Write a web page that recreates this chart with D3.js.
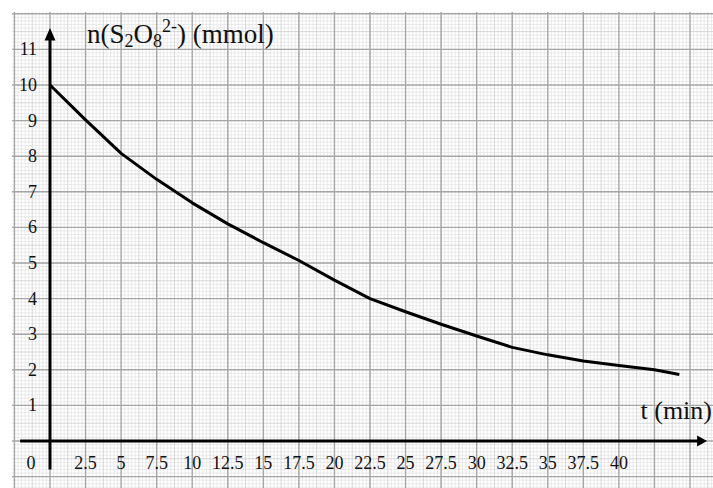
<!DOCTYPE html>
<html>
<head>
<meta charset="utf-8">
<script src="https://cdn.jsdelivr.net/npm/d3@7/dist/d3.min.js"></script>
<style>
  html, body { margin: 0; padding: 0; background: #fff; }
  svg { display: block; }
  text { font-family: "Liberation Serif", "Times New Roman", serif; fill: #111; }
</style>
</head>
<body>
<svg id="chart" width="713" height="488"></svg>
<script>
// ---- data ----
const times   = [0, 2.5, 5, 7.5, 10, 12.5, 15, 17.5, 20, 22.5, 25, 27.5, 30, 32.5, 35, 37.5, 40, 42.5, 44.25];
const amounts = [10, 9.02, 8.08, 7.35, 6.69, 6.1, 5.57, 5.07, 4.52, 4.0, 3.63, 3.28, 2.95, 2.63, 2.42, 2.25, 2.12, 2.0, 1.87];
const xTickValues = [2.5, 5, 7.5, 10, 12.5, 15, 17.5, 20, 22.5, 25, 27.5, 30, 32.5, 35, 37.5, 40];
const xTickLabels = ["2.5", "5", "7.5", "10", "12.5", "15", "17.5", "20", "22.5", "25", "27.5", "30", "32.5", "35", "37.5", "40"];
const yTickValues = [1, 2, 3, 4, 5, 6, 7, 8, 9, 10, 11];
const originLabel = "0";
const xAxisTitle = "t (min)";

const W = 713, H = 488;
const svg = d3.select("#chart");

const x = d3.scaleLinear().domain([0, 45]).range([50, 690]);
const y = d3.scaleLinear().domain([0, 10]).range([441, 85]);

// grid area
const gx0 = 12, gx1 = W, gy0 = 12, gy1 = H;
const tMin = x.invert(gx0), tMax = x.invert(gx1);
const nMin = y.invert(gy1), nMax = y.invert(gy0);

const grid = svg.append("g");
function gridLines(stepX, stepY, color, width, filterFn) {
  const xs = d3.range(Math.ceil(tMin / stepX) * stepX, tMax + 1e-9, stepX).filter(filterFn ? (v => filterFn(v, stepX * 10)) : () => true);
  const ys = d3.range(Math.ceil(nMin / stepY) * stepY, nMax + 1e-9, stepY).filter(filterFn ? (v => filterFn(v, stepY * 10)) : () => true);
  grid.append("g").selectAll("line").data(xs).join("line")
    .attr("x1", d => x(d)).attr("x2", d => x(d)).attr("y1", gy0).attr("y2", gy1)
    .attr("stroke", color).attr("stroke-width", width);
  grid.append("g").selectAll("line").data(ys).join("line")
    .attr("y1", d => y(d)).attr("y2", d => y(d)).attr("x1", gx0).attr("x2", gx1)
    .attr("stroke", color).attr("stroke-width", width);
}
const notMultiple = (v, big) => Math.abs(v / big - Math.round(v / big)) > 1e-6;
// minor (1/10), medium (1/2), major
gridLines(0.25, 0.1, "#e4e4e4", 0.8, (v, big) => notMultiple(v, big / 2));
gridLines(1.25, 0.5, "#d2d2d2", 0.9, (v, big) => notMultiple(v, big / 5 * 2));
gridLines(2.5, 1, "#a6a6a6", 1.4);

// axes
const axisG = svg.append("g");
axisG.append("line")
  .attr("x1", x(0)).attr("x2", x(0)).attr("y1", y(-0.8)).attr("y2", y(11.3))
  .attr("stroke", "#000").attr("stroke-width", 3);
axisG.append("path")
  .attr("d", `M${x(0)},${y(11.6)} L${x(0) - 5.5},${y(11.25)} L${x(0) + 5.5},${y(11.25)} Z`)
  .attr("fill", "#000");
axisG.append("line")
  .attr("x1", x(-2.1)).attr("x2", x(45.6)).attr("y1", y(0)).attr("y2", y(0))
  .attr("stroke", "#000").attr("stroke-width", 3);
axisG.append("path")
  .attr("d", `M${x(46.2)},${y(0)} L${x(45.5)},${y(0) - 5.5} L${x(45.5)},${y(0) + 5.5} Z`)
  .attr("fill", "#000");

// y tick labels
svg.append("g").selectAll("text").data(yTickValues).join("text")
  .attr("x", 37).attr("y", d => y(d) + 6)
  .attr("text-anchor", "end").attr("font-size", 18)
  .text(d => d);

// x tick labels
svg.append("g").selectAll("text").data(xTickValues).join("text")
  .attr("x", d => x(d)).attr("y", y(0) + 28)
  .attr("text-anchor", "middle").attr("font-size", 18)
  .text((d, i) => xTickLabels[i]);
svg.append("text").attr("x", 31).attr("y", y(0) + 28)
  .attr("text-anchor", "middle").attr("font-size", 18).text(originLabel);

// curve
const line = d3.line().x((d, i) => x(times[i])).y(d => y(d)).curve(d3.curveLinear);
svg.append("path").datum(amounts)
  .attr("d", line).attr("fill", "none").attr("stroke", "#000")
  .attr("stroke-width", 3).attr("stroke-linejoin", "round").attr("stroke-linecap", "butt");

// y axis title with sub/superscripts
const tt = svg.append("text").attr("x", 87).attr("y", 43).attr("font-size", 27);
tt.append("tspan").text("n(S");
tt.append("tspan").attr("font-size", 18).attr("dy", 4).text("2");
tt.append("tspan").attr("dy", -4).text("O");
tt.append("tspan").attr("font-size", 18).attr("dy", 4).text("8");
tt.append("tspan").attr("font-size", 18).attr("dy", -15).text("2-");
tt.append("tspan").attr("dy", 11).text(") (mmol)");

// x axis title
svg.append("text").attr("x", 712).attr("y", 419)
  .attr("text-anchor", "end").attr("font-size", 26).text(xAxisTitle);
</script>
</body>
</html>
